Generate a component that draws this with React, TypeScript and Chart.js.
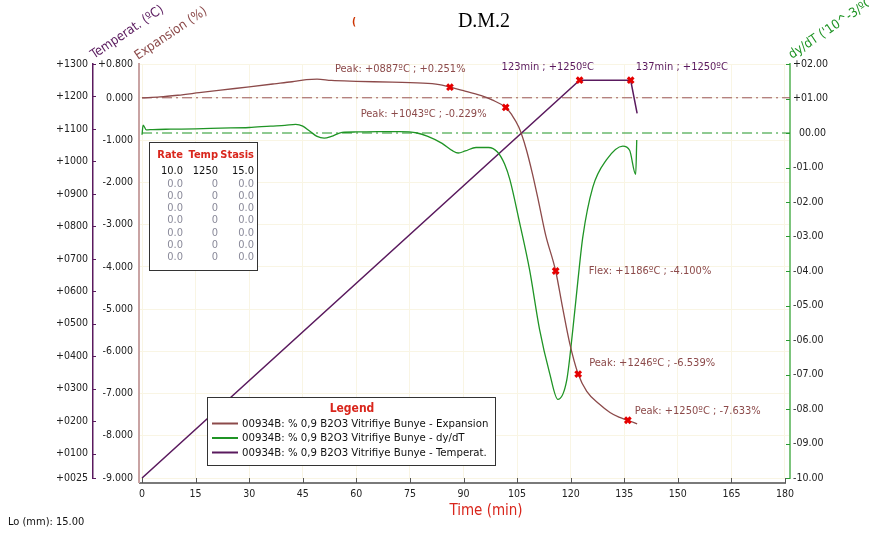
import React, { useEffect, useRef } from 'react';
import { Chart, registerables } from 'chart.js';

Chart.register(...registerables);

// ---------- data ----------
const TITLE = 'D.M.2';
const X_TICKS = [0, 15, 30, 45, 60, 75, 90, 105, 120, 135, 150, 165, 180];
const TEMP_TICKS = [25, 100, 200, 300, 400, 500, 600, 700, 800, 900, 1000, 1100, 1200, 1300];
const EXP_TICKS = [-9, -8, -7, -6, -5, -4, -3, -2, -1, 0, 0.8];
const DYDT_TICKS = [-10, -9, -8, -7, -6, -5, -4, -3, -2, -1, 0, 1, 2];

const tempTime = [0, 122.5, 136.8, 138.6];
const tempValue = [25, 1250, 1250, 1148];

const expTime = [0, 5, 10, 16, 22, 30, 37, 42, 46, 49, 53, 60, 70, 80, 84, 86.2, 90, 95, 98, 101.8, 103.5, 105.5, 107.5, 109.3, 111, 113, 115.8, 117.7, 119.7, 122.1, 124.5, 128, 131, 133.5, 136, 138.6];
const expValue = [0, 0.02, 0.06, 0.12, 0.18, 0.26, 0.33, 0.38, 0.43, 0.44, 0.41, 0.39, 0.37, 0.34, 0.3, 0.251, 0.17, 0.05, -0.05, -0.229, -0.4, -0.7, -1.2, -1.8, -2.45, -3.25, -4.1, -4.95, -5.8, -6.539, -6.95, -7.25, -7.45, -7.56, -7.633, -7.72];

const dydtTime = [0, 0.3, 1.2, 3, 8, 15, 22, 30, 36, 40, 43, 45, 47, 49, 51, 53, 56, 60, 66, 72, 77, 80, 84, 87, 88.5, 90.5, 93.5, 97, 99.5, 101.5, 103, 105.7, 108.5, 111.3, 114.1, 116.4, 118.9, 120.6, 122, 123.4, 126.2, 130, 134.6, 136.5, 138.2, 138.5];
const dydtValue = [-0.05, 0.23, 0.09, 0.1, 0.11, 0.12, 0.14, 0.16, 0.2, 0.22, 0.25, 0.2, 0.05, -0.1, -0.15, -0.1, 0.02, 0.03, 0.04, 0.04, 0.0, -0.1, -0.3, -0.52, -0.58, -0.52, -0.42, -0.42, -0.55, -0.9, -1.36, -2.6, -3.97, -5.7, -6.96, -7.72, -7.16, -5.7, -4.3, -3.01, -1.57, -0.78, -0.38, -0.5, -1.2, -0.2];

const tempMarkerTime = [122.5, 136.8];
const tempMarkerValue = [1250, 1250];
const tempMarkerText = ['123min ; +1250ºC', '137min ; +1250ºC'];

const expMarkerTime = [86.2, 101.8, 115.8, 122.1, 136.0];
const expMarkerValue = [0.251, -0.229, -4.1, -6.539, -7.633];
const expMarkerText = [
  'Peak: +0887ºC ; +0.251%',
  'Peak: +1043ºC ; -0.229%',
  'Flex: +1186ºC ; -4.100%',
  'Peak: +1246ºC ; -6.539%',
  'Peak: +1250ºC ; -7.633%',
];

const SERIES_NAMES = [
  '00934B: % 0,9 B2O3 Vitrifiye Bunye - Expansion',
  '00934B: % 0,9 B2O3 Vitrifiye Bunye - dy/dT',
  '00934B: % 0,9 B2O3 Vitrifiye Bunye - Temperat.',
];

const TABLE_HEAD = ['Rate', 'Temp', 'Stasis'];
const rateCol = ['10.0', '0.0', '0.0', '0.0', '0.0', '0.0', '0.0', '0.0'];
const tempCol = ['1250', '0', '0', '0', '0', '0', '0', '0'];
const stasisCol = ['15.0', '0.0', '0.0', '0.0', '0.0', '0.0', '0.0', '0.0'];

const X_TITLE = 'Time (min)';
const TEMP_TITLE = 'Temperat. (ºC)';
const EXP_TITLE = 'Expansion (%)';
const DYDT_TITLE = "dy/dT ('10^-3/ºC)";
const FOOTER = 'Lo (mm): 15.00';

// ---------- styles ----------
const FONT = '"DejaVu Sans Condensed", "DejaVu Sans", sans-serif';
const C_EXP = '#8c4a4a';
const C_DYDT = '#1f9425';
const C_TEMP = '#5a1a5e';
const C_RED = '#d9261c';
const C_GRID = '#f9f5e4';
const X_MIN = -0.85;
const X_MAX = 181.4;

const EXP_LABEL_OFF = [[-115, -18], [-145, 7], [33, 0], [11, -11], [7, -9]];
const TEMP_LABEL_OFF = [[-78, -13], [5, -13]];

const pts = (xs: number[], ys: number[]) => xs.map((x, i) => ({ x, y: ys[i] }));

const overlay = {
  id: 'overlay',
  afterDatasetsDraw(chart: any) {
    const ctx = chart.ctx as CanvasRenderingContext2D;
    const sx = chart.scales.x;
    const sExp = chart.scales.exp;
    const sTemp = chart.scales.temp;
    const sD = chart.scales.dydt;
    const area = chart.chartArea;
    ctx.save();

    // custom x axis line (slightly below the plot)
    const axY = area.bottom + 5;
    ctx.strokeStyle = '#7a7a7a';
    ctx.lineWidth = 2;
    ctx.beginPath();
    ctx.moveTo(area.left, axY);
    ctx.lineTo(sx.getPixelForValue(180) + 1, axY);
    ctx.stroke();
    ctx.lineWidth = 1;
    ctx.strokeStyle = '#555';
    X_TICKS.forEach((t) => {
      const px = Math.round(sx.getPixelForValue(t)) + 0.5;
      ctx.beginPath();
      ctx.moveTo(px, axY);
      ctx.lineTo(px, axY - 5);
      ctx.stroke();
    });
    ctx.strokeStyle = '#c9a3a3';
    ctx.lineWidth = 2;
    ctx.beginPath();
    ctx.moveTo(area.left, area.bottom);
    ctx.lineTo(area.left, axY);
    ctx.stroke();

    // small tick marks on the value axes
    ctx.lineWidth = 1;
    ctx.strokeStyle = C_TEMP;
    TEMP_TICKS.forEach((v) => {
      const py = Math.round(sTemp.getPixelForValue(v)) + 0.5;
      ctx.beginPath();
      ctx.moveTo(sTemp.right, py);
      ctx.lineTo(sTemp.right + 3, py);
      ctx.stroke();
    });
    ctx.strokeStyle = '#2a9a30';
    DYDT_TICKS.forEach((v) => {
      const py = Math.round(sD.getPixelForValue(v)) + 0.5;
      ctx.beginPath();
      ctx.moveTo(sD.left - 4, py);
      ctx.lineTo(sD.left, py);
      ctx.stroke();
    });

    // annotation labels
    ctx.font = `11px ${FONT}`;
    ctx.textBaseline = 'middle';
    ctx.textAlign = 'left';
    ctx.fillStyle = C_EXP;
    expMarkerTime.forEach((t, i) => {
      const px = sx.getPixelForValue(t);
      const py = sExp.getPixelForValue(expMarkerValue[i]);
      ctx.fillText(expMarkerText[i], px + EXP_LABEL_OFF[i][0], py + EXP_LABEL_OFF[i][1]);
    });
    ctx.fillStyle = C_TEMP;
    tempMarkerTime.forEach((t, i) => {
      const px = sx.getPixelForValue(t);
      const py = sTemp.getPixelForValue(tempMarkerValue[i]);
      ctx.fillText(tempMarkerText[i], px + TEMP_LABEL_OFF[i][0], py + TEMP_LABEL_OFF[i][1]);
    });

    // rate table
    const tb = { l: 149, t: 142, r: 257, b: 270 };
    ctx.fillStyle = '#ffffff';
    ctx.fillRect(tb.l, tb.t, tb.r - tb.l, tb.b - tb.t);
    ctx.strokeStyle = '#333';
    ctx.lineWidth = 1;
    ctx.strokeRect(tb.l + 0.5, tb.t + 0.5, tb.r - tb.l, tb.b - tb.t);
    const colR = [183, 218, 254];
    ctx.textAlign = 'right';
    ctx.font = `bold 11px ${FONT}`;
    ctx.fillStyle = C_RED;
    TABLE_HEAD.forEach((h, i) => ctx.fillText(h, colR[i], 155));
    ctx.font = `11px ${FONT}`;
    rateCol.forEach((v, r) => {
      const y = 171.5 + r * 12.25;
      ctx.fillStyle = r === 0 ? '#111' : '#8a8a9a';
      ctx.fillText(v, colR[0], y);
      ctx.fillText(tempCol[r], colR[1], y);
      ctx.fillText(stasisCol[r], colR[2], y);
    });

    // legend
    const lg = { l: 207, t: 397, r: 495, b: 465 };
    ctx.fillStyle = '#ffffff';
    ctx.fillRect(lg.l, lg.t, lg.r - lg.l, lg.b - lg.t);
    ctx.strokeStyle = '#333';
    ctx.strokeRect(lg.l + 0.5, lg.t + 0.5, lg.r - lg.l, lg.b - lg.t);
    ctx.textAlign = 'center';
    ctx.font = `bold 12px ${FONT}`;
    ctx.fillStyle = C_RED;
    ctx.fillText('Legend', (lg.l + lg.r) / 2 + 1, 409);
    const lcols = [C_EXP, C_DYDT, C_TEMP];
    ctx.textAlign = 'left';
    ctx.font = `11.3px ${FONT}`;
    SERIES_NAMES.forEach((n, i) => {
      const y = 423 + i * 14.5;
      ctx.strokeStyle = lcols[i];
      ctx.lineWidth = 2;
      ctx.beginPath();
      ctx.moveTo(212, y + 0.5);
      ctx.lineTo(238, y + 0.5);
      ctx.stroke();
      ctx.fillStyle = '#111';
      ctx.fillText(n, 242, y + 1);
    });

    // titles
    ctx.textAlign = 'center';
    ctx.fillStyle = '#000';
    ctx.font = '20px "Liberation Serif", "Times New Roman", serif';
    ctx.fillText(TITLE, 484, 22);
    ctx.fillStyle = '#cc3300';
    ctx.font = `bold 10px ${FONT}`;
    ctx.fillText('(', 354, 22);

    ctx.fillStyle = C_RED;
    ctx.font = `15px ${FONT}`;
    ctx.fillText(X_TITLE, 486, 511);

    ctx.textAlign = 'left';
    ctx.fillStyle = '#111';
    ctx.font = `11px ${FONT}`;
    ctx.fillText(FOOTER, 8, 522);

    // rotated axis titles
    const rot = (txt: string, x: number, y: number, col: string) => {
      ctx.save();
      ctx.translate(x, y);
      ctx.rotate((-34 * Math.PI) / 180);
      ctx.fillStyle = col;
      ctx.font = `13px ${FONT}`;
      ctx.textAlign = 'left';
      ctx.textBaseline = 'alphabetic';
      ctx.fillText(txt, 0, 0);
      ctx.restore();
    };
    rot(TEMP_TITLE, 94, 59, C_TEMP);
    rot(EXP_TITLE, 138, 60, C_EXP);
    rot(DYDT_TITLE, 792, 59, C_DYDT);

    ctx.restore();
  },
};

export default function App() {
  const ref = useRef<HTMLCanvasElement | null>(null);
  useEffect(() => {
    document.body.style.margin = '0';
    const canvas = ref.current!;
    const fmtTemp = (v: number) => '+' + String(Math.round(v)).padStart(4, '0');
    const fmtExp = (v: number) => (v > 0 ? '+' : '') + v.toFixed(3);
    const fmtD = (v: number) => {
      const a = Math.abs(v);
      const s = (a < 10 ? '0' : '') + a.toFixed(2);
      return v > 0 ? '+' + s : v < 0 ? '-' + s : '\u2007' + s;
    };
    const tickFont = { family: FONT, size: 10.5 };
    const chart = new Chart(canvas, {
      type: 'line',
      data: {
        datasets: [
          {
            label: 'expMarkers',
            data: pts(expMarkerTime, expMarkerValue),
            yAxisID: 'exp',
            showLine: false,
            pointStyle: 'crossRot',
            pointRadius: 4,
            pointBorderWidth: 3,
            pointBorderColor: '#e60000',
            pointBackgroundColor: '#e60000',
          },
          {
            label: 'tempMarkers',
            data: pts(tempMarkerTime, tempMarkerValue),
            yAxisID: 'temp',
            showLine: false,
            pointStyle: 'crossRot',
            pointRadius: 4,
            pointBorderWidth: 3,
            pointBorderColor: '#e60000',
            pointBackgroundColor: '#e60000',
          },
          {
            label: SERIES_NAMES[0],
            data: pts(expTime, expValue),
            yAxisID: 'exp',
            borderColor: C_EXP,
            borderWidth: 1.3,
            pointRadius: 0,
            cubicInterpolationMode: 'monotone',
          },
          {
            label: SERIES_NAMES[1],
            data: pts(dydtTime, dydtValue),
            yAxisID: 'dydt',
            borderColor: C_DYDT,
            borderWidth: 1.3,
            pointRadius: 0,
            cubicInterpolationMode: 'monotone',
          },
          {
            label: SERIES_NAMES[2],
            data: pts(tempTime, tempValue),
            yAxisID: 'temp',
            borderColor: C_TEMP,
            borderWidth: 1.5,
            pointRadius: 0,
          },
          {
            label: 'exp0',
            data: [{ x: 0, y: 0 }, { x: X_MAX, y: 0 }],
            yAxisID: 'exp',
            borderColor: '#9a5555',
            borderWidth: 1,
            borderDash: [10, 4, 2, 4],
            pointRadius: 0,
          },
          {
            label: 'dydt0',
            data: [{ x: 0, y: 0 }, { x: X_MAX, y: 0 }],
            yAxisID: 'dydt',
            borderColor: '#1f9425',
            borderWidth: 1,
            borderDash: [10, 4, 2, 4],
            pointRadius: 0,
          },
        ],
      },
      options: {
        responsive: false,
        animation: false,
        devicePixelRatio: 1,
        layout: { padding: { top: 64, left: 0, right: 0, bottom: 0 } },
        plugins: { legend: { display: false }, tooltip: { enabled: false }, title: { display: false } },
        scales: {
          x: {
            type: 'linear',
            position: 'bottom',
            min: X_MIN,
            max: X_MAX,
            afterBuildTicks: (s: any) => { s.ticks = X_TICKS.map((v) => ({ value: v })); },
            afterFit: (s: any) => { s.height = 60; },
            ticks: { autoSkip: false, maxRotation: 0, font: tickFont, color: '#222', padding: 10, callback: (v: any) => String(v) },
            grid: { color: C_GRID, drawTicks: false },
            border: { display: false },
          },
          temp: {
            type: 'linear',
            position: 'left',
            weight: 2,
            min: 25,
            max: 1300,
            afterBuildTicks: (s: any) => { s.ticks = TEMP_TICKS.map((v) => ({ value: v })); },
            afterFit: (s: any) => { s.width = 93; },
            ticks: { autoSkip: false, font: tickFont, color: '#222', padding: 5, callback: (v: any) => fmtTemp(v) },
            grid: { display: false, drawTicks: false },
            border: { display: true, color: C_TEMP, width: 1.5 },
          },
          exp: {
            type: 'linear',
            position: 'left',
            weight: 1,
            min: -9,
            max: 0.8,
            afterBuildTicks: (s: any) => { s.ticks = EXP_TICKS.map((v) => ({ value: v })); },
            afterFit: (s: any) => { s.width = 46; },
            ticks: { autoSkip: false, font: tickFont, color: '#222', padding: 6, callback: (v: any) => fmtExp(v) },
            grid: { color: C_GRID, drawTicks: false },
            border: { display: true, color: '#c9a3a3', width: 2 },
          },
          dydt: {
            type: 'linear',
            position: 'right',
            min: -10,
            max: 2,
            afterBuildTicks: (s: any) => { s.ticks = DYDT_TICKS.map((v) => ({ value: v })); },
            afterFit: (s: any) => { s.width = 79; },
            ticks: { autoSkip: false, font: tickFont, color: '#222', padding: 3, callback: (v: any) => fmtD(v) },
            grid: { display: false, drawTicks: false },
            border: { display: true, color: '#7cc47c', width: 2 },
          },
        },
      } as any,
      plugins: [overlay],
    });
    return () => chart.destroy();
  }, []);
  return (
    <div style={{ width: 869, height: 538, background: '#fff' }}>
      <canvas ref={ref} width={869} height={538} style={{ display: 'block' }} />
    </div>
  );
}
